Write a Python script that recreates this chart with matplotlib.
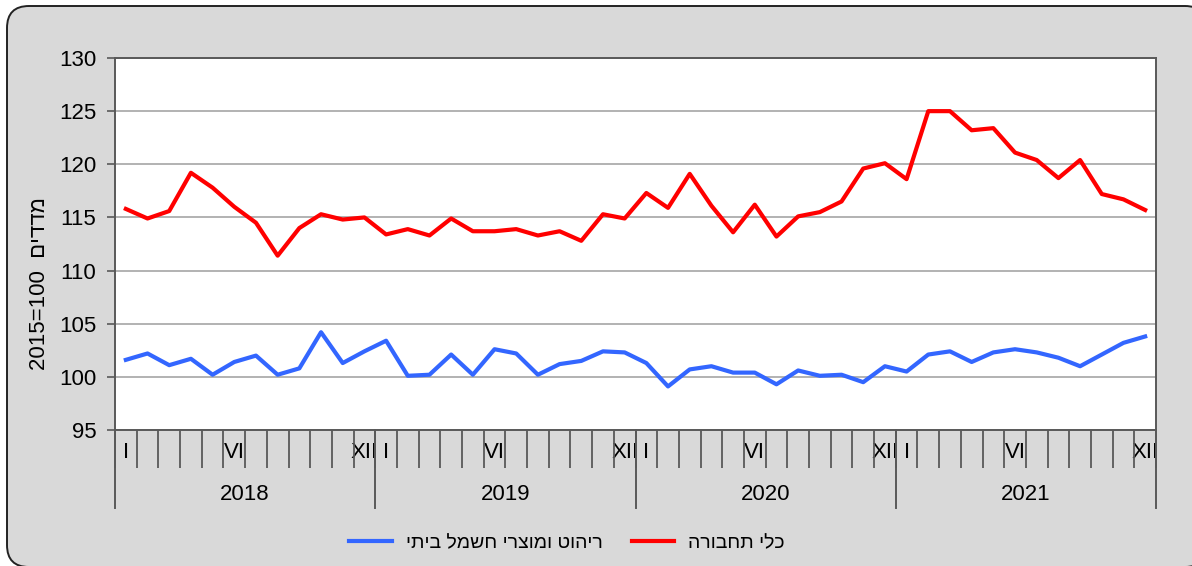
import numpy as np
import matplotlib.pyplot as plt
from matplotlib.patches import FancyBboxPatch
from matplotlib.lines import Line2D

plt.rcParams['font.family'] = ['Liberation Sans', 'DejaVu Sans']

# Monthly price indices, 2015=100, Jan 2018 - Dec 2021
years = ['2018', '2019', '2020', '2021']
month_labels = ['I', 'VI', 'XII']
month_label_pos = [0, 5, 11]

vehicles = [115.8, 114.9, 115.6, 119.2, 117.8, 116.0, 114.5, 111.4, 114.0, 115.3, 114.8, 115.0,
            113.4, 113.9, 113.3, 114.9, 113.7, 113.7, 113.9, 113.3, 113.7, 112.8, 115.3, 114.9,
            117.3, 115.9, 119.1, 116.1, 113.6, 116.2, 113.2, 115.1, 115.5, 116.5, 119.6, 120.1,
            118.6, 125.0, 125.0, 123.2, 123.4, 121.1, 120.4, 118.7, 120.4, 117.2, 116.7, 115.7]
furniture = [101.6, 102.2, 101.1, 101.7, 100.2, 101.4, 102.0, 100.2, 100.8, 104.2, 101.3, 102.4,
             103.4, 100.1, 100.2, 102.1, 100.2, 102.6, 102.2, 100.2, 101.2, 101.5, 102.4, 102.3,
             101.3, 99.1, 100.7, 101.0, 100.4, 100.4, 99.3, 100.6, 100.1, 100.2, 99.5, 101.0,
             100.5, 102.1, 102.4, 101.4, 102.3, 102.6, 102.3, 101.8, 101.0, 102.1, 103.2, 103.8]

label_vehicles = 'כלי תחבורה'
label_furniture = 'ריהוט ומוצרי חשמל ביתי'
ylabel_heb = 'מדדים'

def vis(s):
    # matplotlib has no bidi support: reverse Hebrew for display
    return s[::-1]

fig = plt.figure(figsize=(11.92, 5.66), dpi=100)
fig.patch.set_facecolor('white')

# rounded grey frame (runs slightly past the right and bottom edges)
frame = FancyBboxPatch((0.07, -0.01), 12.0, 5.61,
                       boxstyle='round,pad=0,rounding_size=0.22',
                       transform=fig.dpi_scale_trans, facecolor='#d9d9d9',
                       edgecolor='#222222', linewidth=1.4, zorder=-1)
fig.add_artist(frame)

ax = fig.add_axes([115 / 1192, 136 / 566, 1041 / 1192, 372 / 566])
ax.set_facecolor('white')

x = np.arange(len(vehicles))
ax.plot(x, furniture, color='#3366ff', lw=3, label=vis(label_furniture), solid_joinstyle='round')
ax.plot(x, vehicles, color='#ff0000', lw=3, label=vis(label_vehicles), solid_joinstyle='round')

ax.set_xlim(-0.5, 47.5)
ax.set_ylim(95, 130)
ax.set_yticks(np.arange(95, 131, 5))
ax.yaxis.grid(True, color='#a6a6a6', lw=1.2)
ax.set_axisbelow(True)

for s in ax.spines.values():
    s.set_color('#595959')
    s.set_linewidth(1.4)

ax.tick_params(axis='y', direction='out', length=5.5, width=1.2, color='#595959',
               labelsize=16, pad=8)

# month ticks: labels on I, VI, XII; boundary lines as minor ticks
ticks = []
labels = []
for k in range(len(years)):
    for p, lab in zip(month_label_pos, month_labels):
        ticks.append(12 * k + p)
        labels.append(lab)
ax.set_xticks(ticks)
ax.set_xticklabels(labels)
ax.set_xticks(np.arange(-0.5, 48, 1), minor=True)
ax.tick_params(axis='x', which='major', length=0, labelsize=16, pad=9)
ax.tick_params(axis='x', which='minor', direction='out', length=27.5, width=1.3, color='#595959')

# year separators and year labels
for k in range(len(years) + 1):
    ax.add_line(Line2D([12 * k - 0.5, 12 * k - 0.5], [0, -78 / 372],
                       transform=ax.get_xaxis_transform(), color='#595959',
                       lw=1.4, clip_on=False))
for k, yr in enumerate(years):
    ax.text(12 * k + 5.5, -65 / 372, yr, transform=ax.get_xaxis_transform(),
            ha='center', va='center', fontsize=16)

fig.text(40 / 1192, 1 - 284 / 566, '2015=100  ' + vis(ylabel_heb), rotation=90,
         ha='center', va='center', fontsize=16)

fig.legend(loc='center', bbox_to_anchor=(567 / 1192, 1 - 543 / 566), ncol=2,
           frameon=False, fontsize=14, handlelength=2.2, handletextpad=0.7,
           columnspacing=1.5)

fig.savefig('out.png', dpi=100)
